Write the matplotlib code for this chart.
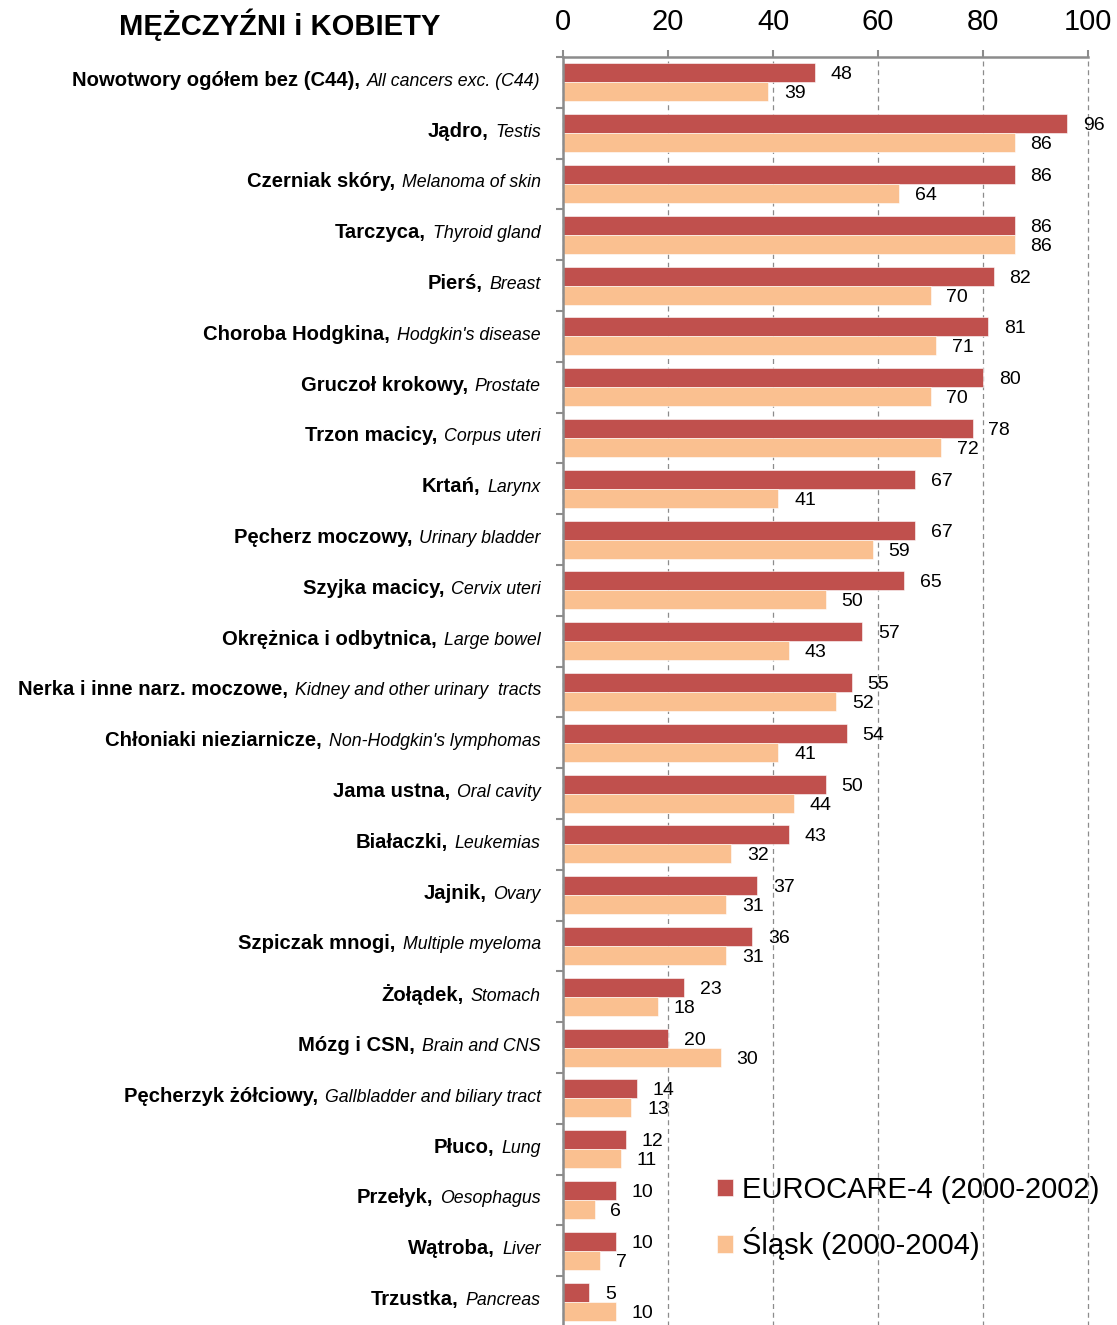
import matplotlib
matplotlib.use("Agg")
import matplotlib.pyplot as plt
import numpy as np
from matplotlib.offsetbox import TextArea, HPacker, AnnotationBbox

plt.rcParams['font.family'] = ['Liberation Sans', 'DejaVu Sans']

# data
names_pl = ["Nowotwory ogółem bez (C44)", "Jądro", "Czerniak skóry", "Tarczyca", "Pierś",
            "Choroba Hodgkina", "Gruczoł krokowy", "Trzon macicy", "Krtań", "Pęcherz moczowy",
            "Szyjka macicy", "Okrężnica i odbytnica", "Nerka i inne narz. moczowe",
            "Chłoniaki nieziarnicze", "Jama ustna", "Białaczki", "Jajnik", "Szpiczak mnogi",
            "Żołądek", "Mózg i CSN", "Pęcherzyk żółciowy", "Płuco", "Przełyk", "Wątroba",
            "Trzustka"]
names_en = ["All cancers exc. (C44)", "Testis", "Melanoma of skin", "Thyroid gland", "Breast",
            "Hodgkin's disease", "Prostate", "Corpus uteri", "Larynx", "Urinary bladder",
            "Cervix uteri", "Large bowel", "Kidney and other urinary  tracts",
            "Non-Hodgkin's lymphomas", "Oral cavity", "Leukemias", "Ovary", "Multiple myeloma",
            "Stomach", "Brain and CNS", "Gallbladder and biliary tract", "Lung", "Oesophagus",
            "Liver", "Pancreas"]
eurocare = [48, 96, 86, 86, 82, 81, 80, 78, 67, 67, 65, 57, 55, 54, 50, 43, 37, 36, 23, 20,
            14, 12, 10, 10, 5]
slask = [39, 86, 64, 86, 70, 71, 70, 72, 41, 59, 50, 43, 52, 41, 44, 32, 31, 31, 18, 30,
         13, 11, 6, 7, 10]
series_names = ["EUROCARE-4 (2000-2002)", "Śląsk (2000-2004)"]
x_ticks = [0, 20, 40, 60, 80, 100]

RED = "#C0504D"
ORANGE = "#FAC090"
GREY = "#8C8C8C"

W, H = 1117, 1325
fig = plt.figure(figsize=(W / 100, H / 100), dpi=100)
ax = fig.add_axes([563 / W, -2 / H, (1088 - 563) / W, (1325 - 57 + 2) / H])

n = len(names_pl)
y = np.arange(n)
bh = 0.375
b1 = ax.barh(y - bh / 2, eurocare, height=bh, color=RED, edgecolor="white", linewidth=0.4,
             label=series_names[0], zorder=2)
b2 = ax.barh(y + bh / 2, slask, height=bh, color=ORANGE, edgecolor="white", linewidth=0.4,
             label=series_names[1], zorder=2)
for lbl in ax.bar_label(b1, padding=11.5, fontsize=14) + ax.bar_label(b2, padding=11.5, fontsize=14):
    lbl.set_va('center_baseline')

ax.set_xlim(0, 100)
ax.set_ylim(n - 0.5, -0.5)

# x axis on top
ax.xaxis.tick_top()
ax.set_xticks(x_ticks)
ax.tick_params(axis='x', labelsize=21, length=5, width=1.5, color=GREY, pad=10)
ax.grid(axis='x', linestyle=(0, (4, 3)), color=GREY, linewidth=0.9)
for gl in ax.get_xgridlines():
    gl.set_clip_on(False)
ax.set_axisbelow(True)

# category boundaries as ticks on the left
ax.set_yticks(y)
ax.set_yticklabels([])
ax.tick_params(axis='y', which='major', length=0)
ax.set_yticks(np.arange(n + 1) - 0.5, minor=True)
ax.tick_params(axis='y', which='minor', length=5, width=1.5, color=GREY)

for s in ['right', 'bottom']:
    ax.spines[s].set_visible(False)
for s in ['left', 'top']:
    ax.spines[s].set_color(GREY)
    ax.spines[s].set_linewidth(1.8)

# two-part category labels: bold Polish + italic English
for i in range(n):
    pl = TextArea(names_pl[i] + ",", textprops=dict(fontsize=14.6, fontweight='bold'))
    en = TextArea(names_en[i], textprops=dict(fontsize=12.8, fontstyle='italic'))
    box = HPacker(children=[pl, en], pad=0, sep=5, align='baseline')
    ab = AnnotationBbox(box, (0, i), xybox=(-16, 1.5), xycoords='data',
                        boxcoords='offset points', box_alignment=(1, 0.5),
                        frameon=False, annotation_clip=False)
    ax.add_artist(ab)

fig.text(280 / W, 1 - 25 / H, "MĘŻCZYŹNI i KOBIETY", fontsize=21, fontweight='bold',
         ha='center', va='center')

fig.legend(handles=[b1, b2], loc='upper left', bbox_to_anchor=(717 / W, 1 - 1176 / H),
           frameon=False, fontsize=21, handlelength=0.55, handleheight=0.55,
           handletextpad=0.3, labelspacing=0.8, borderaxespad=0, borderpad=0)

fig.savefig("out.png", dpi=100)
